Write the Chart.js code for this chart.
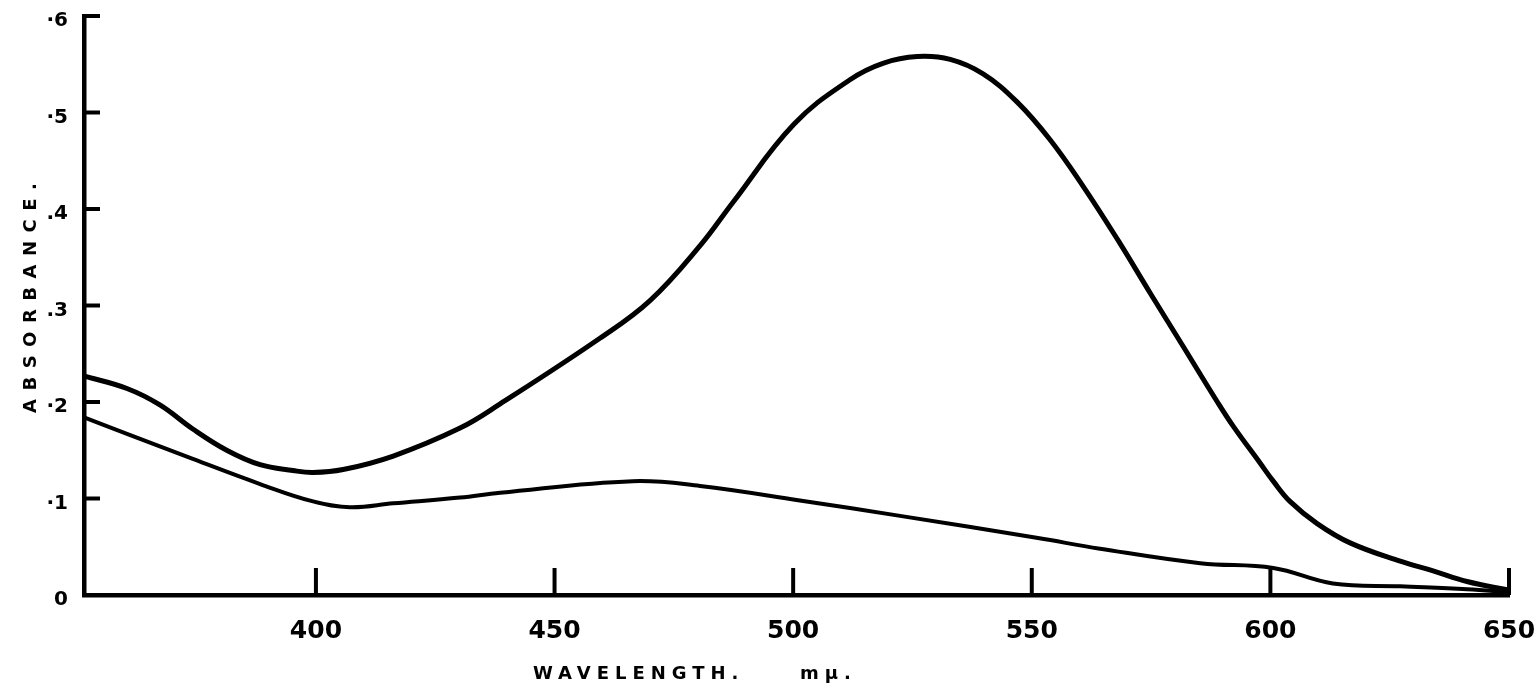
<!DOCTYPE html>
<html>
<head>
<meta charset="utf-8">
<script src="https://cdn.jsdelivr.net/npm/chart.js@4.4.0/dist/chart.umd.min.js"></script>
<style>
  html, body { margin: 0; padding: 0; background: #ffffff; }
  #wrap { width: 1539px; height: 696px; }
  canvas { display: block; }
</style>
</head>
<body>
<div id="wrap"><canvas id="spectrum" width="1539" height="696"></canvas></div>
<script>
// Axis ticks
const wavelengthTicks = [400, 450, 500, 550, 600, 650];
const absorbanceTicks = [0, 0.1, 0.2, 0.3, 0.4, 0.5, 0.6];
const absorbanceTickLabels = ['0', '·1', '·2', '.3', '.4', '·5', '·6'];
const wavelengthRange = [351.4, 650];

// Upper absorption curve (peak near 526 mμ)
const upperWavelength = [351.4, 360.4, 367.3, 374.2, 381.3, 388.3, 395.2, 399.4, 405.7, 416.2,
                         430.2, 438.6, 459.5, 470.0, 480.5, 487.4, 500.2, 511.9, 518.8, 526.0,
                         532.9, 539.8, 546.9, 553.8, 560.7, 567.9, 574.8, 581.8, 588.9, 592.2,
                         597.8, 600.6, 604.1, 609.8, 616.7, 627.2, 634.1, 641.2, 650.0];
const upperAbsorbance = [0.227, 0.214, 0.197, 0.172, 0.150, 0.135, 0.129, 0.127, 0.130, 0.144,
                         0.173, 0.198, 0.266, 0.305, 0.362, 0.407, 0.488, 0.534, 0.551, 0.558,
                         0.555, 0.540, 0.511, 0.472, 0.424, 0.369, 0.313, 0.257, 0.200, 0.175,
                         0.137, 0.118, 0.097, 0.074, 0.054, 0.035, 0.025, 0.014, 0.005];

// Lower absorption curve (broad shoulder near 466 mμ)
const lowerWavelength = [351.4, 360.4, 374.2, 388.3, 399.4, 407.1, 416.2, 430.2, 438.6, 466.4,
                         480.5, 501.4, 522.4, 551.3, 564.3, 585.3, 600.6, 613.1, 627.2, 641.2, 650.0];
const lowerAbsorbance = [0.184, 0.167, 0.141, 0.115, 0.097, 0.091, 0.095, 0.101, 0.106, 0.118,
                         0.113, 0.098, 0.082, 0.059, 0.048, 0.033, 0.028, 0.012, 0.009, 0.006, 0.003];

const toPoints = (xs, ys) => xs.map((x, i) => ({ x: x, y: ys[i] }));

// Short tick marks drawn inward from both axes
const inwardTicks = {
  id: 'inwardTicks',
  afterDraw(chart) {
    const { ctx, chartArea, scales } = chart;
    ctx.save();
    ctx.strokeStyle = '#000';
    ctx.lineWidth = 4;
    ctx.lineCap = 'butt';
    absorbanceTicks.forEach(v => {
      if (v === 0) return;
      const py = scales.y.getPixelForValue(v);
      ctx.beginPath();
      ctx.moveTo(chartArea.left, py);
      ctx.lineTo(chartArea.left + 16, py);
      ctx.stroke();
    });
    wavelengthTicks.forEach(v => {
      const px = scales.x.getPixelForValue(v);
      ctx.beginPath();
      ctx.moveTo(px, chartArea.bottom);
      ctx.lineTo(px, chartArea.bottom - 27);
      ctx.stroke();
    });
    ctx.restore();
  }
};

// Widely spaced axis captions
const axisCaptions = {
  id: 'axisCaptions',
  afterDraw(chart) {
    const { ctx, chartArea } = chart;
    ctx.save();
    ctx.fillStyle = '#000';
    ctx.font = 'bold 18px "DejaVu Sans"';
    ctx.textBaseline = 'middle';
    ctx.textAlign = 'left';
    ctx.letterSpacing = '6px';
    const yCap = chartArea.bottom + 79;
    ctx.fillText('WAVELENGTH.', chartArea.left + 449, yCap);
    ctx.fillText('mμ.', chartArea.left + 716, yCap);

    ctx.letterSpacing = '8.5px';
    ctx.translate(31, chartArea.top + 397);
    ctx.rotate(-Math.PI / 2);
    ctx.fillText('ABSORBANCE.', 0, 0);
    ctx.restore();
  }
};

new Chart(document.getElementById('spectrum'), {
  type: 'line',
  data: {
    datasets: [
      {
        label: 'upper',
        data: toPoints(upperWavelength, upperAbsorbance),
        borderColor: '#000',
        borderWidth: 5,
        pointRadius: 0,
        fill: false,
        tension: 0.4
      },
      {
        label: 'lower',
        data: toPoints(lowerWavelength, lowerAbsorbance),
        borderColor: '#000',
        borderWidth: 4,
        pointRadius: 0,
        fill: false,
        tension: 0.4
      }
    ]
  },
  options: {
    responsive: false,
    animation: false,
    devicePixelRatio: 1,
    layout: { padding: { left: 0, right: 30, top: 16, bottom: 0 } },
    plugins: {
      legend: { display: false },
      tooltip: { enabled: false }
    },
    scales: {
      x: {
        type: 'linear',
        min: wavelengthRange[0],
        max: wavelengthRange[1],
        afterBuildTicks(scale) {
          scale.ticks = wavelengthTicks.map(v => ({ value: v }));
        },
        afterFit(scale) {
          scale.height = 101;
          scale.paddingLeft = 0;
          scale.paddingRight = 0;
        },
        grid: { drawOnChartArea: false, drawTicks: false },
        border: { display: true, color: '#000', width: 4.5 },
        ticks: {
          color: '#000',
          padding: 21,
          maxRotation: 0,
          autoSkip: false,
          font: { family: 'DejaVu Sans', size: 25, weight: 'bold' },
          callback: (v) => String(v)
        }
      },
      y: {
        type: 'linear',
        min: 0,
        max: 0.6,
        afterBuildTicks(scale) {
          scale.ticks = absorbanceTicks.map(v => ({ value: v }));
        },
        afterFit(scale) {
          scale.width = 84;
          scale.paddingTop = 0;
          scale.paddingBottom = 0;
        },
        grid: { drawOnChartArea: false, drawTicks: false },
        border: { display: true, color: '#000', width: 4.5 },
        ticks: {
          color: '#000',
          padding: 16,
          labelOffset: 5,
          autoSkip: false,
          font: { family: 'DejaVu Sans', size: 20, weight: 'bold' },
          callback: (v) => {
            const i = absorbanceTicks.findIndex(t => Math.abs(t - v) < 1e-9);
            return i >= 0 ? absorbanceTickLabels[i] : '';
          }
        }
      }
    }
  },
  plugins: [inwardTicks, axisCaptions]
});
</script>
</body>
</html>
